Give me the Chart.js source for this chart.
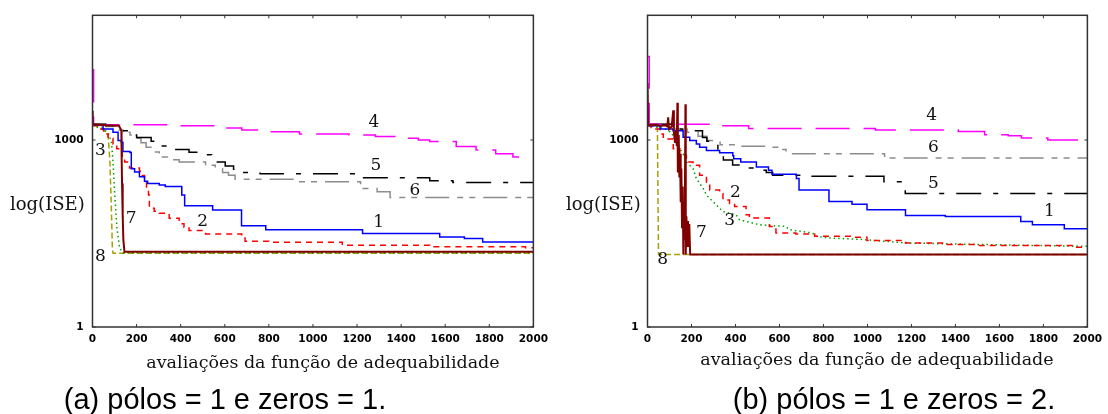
<!DOCTYPE html>
<html>
<head>
<meta charset="utf-8">
<script src="https://cdn.jsdelivr.net/npm/chart.js@4.4.0/dist/chart.umd.min.js"></script>
<style>
    body { margin: 0; background: #fff; width: 1108px; height: 414px; position: relative; overflow: hidden; }
    canvas { position: absolute; top: 0; }
    .txt { position: absolute; white-space: nowrap; color: #111; }
    .serif { font-family: "DejaVu Serif", serif; }
    .cap { font-family: "Liberation Sans", Arial, sans-serif; font-size: 29px; color: #000; transform: translate(-50%, -50%); }
</style>
</head>
<body>
<canvas id="chartA" width="554" height="414" style="left:0"></canvas>
<canvas id="chartB" width="554" height="414" style="left:554px"></canvas>

<div class="txt serif" style="left:10px;top:203px;font-size:18px;transform:translateY(-50%)">log(ISE)</div>
<div class="txt serif" style="left:566px;top:203px;font-size:18px;transform:translateY(-50%)">log(ISE)</div>
<div class="txt serif" style="left:323px;top:362px;font-size:17.5px;transform:translate(-50%,-50%)">avaliações da função de adequabilidade</div>
<div class="txt serif" style="left:877px;top:359px;font-size:17.5px;transform:translate(-50%,-50%)">avaliações da função de adequabilidade</div>
<div class="txt cap" style="left:225px;top:399px">(a) pólos = 1 e zeros = 1.</div>
<div class="txt cap" style="left:894px;top:399px">(b) pólos = 1 e zeros = 2.</div>

<script>
// x axis / y axis ticks
const xTickValues = [0, 200, 400, 600, 800, 1000, 1200, 1400, 1600, 1800, 2000];
const yTickValues = [1, 1000];

// (a) polos = 1, zeros = 1  -- [avaliacoes, ISE]
const a1 = [[0,1755],[48,1496],[93,1325],[116,978],[131,919],[138,653],[170,630],[176,347],[191,307],[213,256],[236,218],[250,200],[303,190],[330,180],[405,131],[418,88],[545,75],[676,42],[786,36.4],[1225,31.5],[1575,27.8],[1687,26.2],[1770,23],[2000,23]];
const a2 = [[0,1693],[26,1496],[50,1250],[71,1064],[93,864],[110,720],[123,638],[135,530],[146,443],[168,356],[213,315],[225,270],[236,227],[245,170],[254,131],[258,80],[280,72],[303,67],[348,55.7],[393,45.4],[415,40],[438,35.2],[513,31],[677,26.8],[692,23.8],[800,22.9],[1133,20.5],[1530,19.3],[1964,18.6],[2000,18.6]];
const a3 = [[0,1720],[40,1500],[71,1325],[86,919],[93,443],[101,131],[111,38.6],[123,18.6],[138,15.5],[2000,15.5]];
const a4 = [[0,13400],[5,1755],[390,1693],[555,1550],[677,1442],[797,1360],[939,1245],[1164,1202],[1283,1133],[1403,1064],[1478,1000],[1530,942],[1650,786],[1740,693],[1829,600],[1907,531],[2000,531]];
const a5 = [[0,1795],[60,1700],[120,1550],[138,1410],[168,1202],[200,1100],[266,953],[300,800],[348,703],[438,638],[513,578],[540,500],[550,443],[602,382],[640,340],[677,300],[760,288],[1216,247],[1530,221],[1635,208],[2000,208]];
const a6 = [[0,1780],[60,1650],[120,1450],[138,1325],[170,1200],[198,1064],[220,900],[243,766],[270,640],[303,531],[340,480],[393,443],[513,392],[557,347],[590,300],[617,272],[647,235],[917,213],[1216,167],[1291,148],[1350,119],[2000,119]];
const a7 = [[0,2930],[1,1790],[60,1720],[120,1690],[131,1420],[132,600],[134,200],[137,60],[140,25],[145,16.1],[2000,16.1]];
const a8 = [[0,1760],[40,1600],[60,1350],[71,1173],[79,443],[86,71],[90,18.6],[93,15.2],[2000,15.2]];

// (b) polos = 1, zeros = 2
const b1 = [[0,1693],[57,1496],[116,1410],[162,1104],[192,978],[222,864],[237,766],[268,679],[328,622],[388,560],[392,500],[424,443],[495,368],[550,326],[566,282],[677,240],[689,157],[825,103],[930,93],[998,75.7],[1173,61.5],[1354,59.3],[1697,49.4],[1750,43.7],[1895,37.8],[2000,37.8]];
const b2 = [[0,1693],[16,1496],[57,1250],[72,1038],[117,720],[147,565],[177,443],[207,392],[237,272],[268,200],[283,157],[328,139],[343,109],[373,96],[396,85.5],[448,63],[463,56],[554,41],[584,32.2],[675,31],[760,28.5],[930,27.5],[998,24.4],[1173,22.3],[1350,21],[1500,20.3],[1935,19],[2000,19]];
const b3 = [[0,1750],[40,1650],[80,1500],[110,1300],[147,720],[162,600],[177,443],[207,347],[222,240],[253,167],[268,131],[328,80],[343,71],[403,63],[418,52.5],[508,43.7],[629,41],[644,36.4],[750,32.2],[765,28.5],[825,26.8],[975,25.4],[1173,22.3],[1354,21.6],[1697,20.5],[1935,19.8],[2000,19.8]];
const b4 = [[0,21900],[8,1795],[300,1690],[460,1535],[1036,1442],[1413,1374],[1533,1216],[1640,1173],[1700,1076],[1820,1000],[1985,942],[2000,942]];
const b5 = [[0,1795],[120,1500],[160,1400],[250,1100],[270,950],[292,813],[320,653],[345,478],[387,398],[430,356],[494,327],[540,300],[569,272],[700,262],[1075,213],[1172,139],[2000,139]];
const b6 = [[0,1795],[110,1500],[180,1330],[230,1150],[270,980],[330,840],[420,790],[550,766],[600,703],[630,600],[1078,513],[2000,513]];
const b7 = [[0,8200],[3,1750],[20,1720],[40,1760],[60,1680],[80,1720],[90,1650],[94,2300],[98,1500],[110,1650],[117,3000],[120,1350],[125,900],[130,1400],[133,800],[136,3960],[138,300],[142,1200],[145,250],[148,600],[151,100],[154,350],[157,40],[160,180],[163,14.6],[166,90],[169,25],[172.5,3730],[174,14.6],[177,60],[180,20],[184,50],[187,25],[190,45],[194,14.6],[2000,14.6]];
const b8 = [[0,1795],[45,1585],[50,14.6],[2000,14.6]];

// curve numbers: [text, avaliacoes, ISE]
const labelsA = [['1',1298,48],['2',500,48.5],['3',36,687],['4',1277,1910],['5',1286,386],['6',1462,157],['7',175,55.7],['8',36,13.7]];
const labelsB = [['1',1827,71],['2',400,143],['3',373,50.7],['4',1292,2440],['5',1300,200],['6',1300,766],['7',245,32.2],['8',69,12.2]];

const lineColors = ['#0000ff', '#ff0000', '#00a000', '#ff00ff', '#000000', '#8c8c8c', '#800000', '#a8a000'];
const lineDashes = [[], [6, 5], [1.5, 3], [34, 14], [25, 12, 5, 12], [24, 8, 6, 6, 6, 8], [], [6, 3]];
const lineWidths = [1.5, 1.5, 1.5, 1.5, 1.5, 1.5, 2, 1.5];
const stepModes = ['before', 'before', false, 'before', 'before', 'before', false, false];

const tickFont = { family: 'DejaVu Sans', size: 10.5, weight: 'bold' };

// frame, inward tick marks and curve numbers
const framePlugin = {
    id: 'frame',
    afterDatasetsDraw(chart, args, opts) {
        const { ctx, chartArea: a, scales: { x, y } } = chart;
        ctx.save();
        ctx.strokeStyle = '#333';
        ctx.lineWidth = 1.5;
        ctx.strokeRect(a.left, a.top, a.right - a.left, a.bottom - a.top);
        ctx.lineWidth = 1;
        ctx.beginPath();
        x.ticks.forEach(t => {
            const px = x.getPixelForValue(t.value);
            ctx.moveTo(px, a.bottom); ctx.lineTo(px, a.bottom - 3);
            ctx.moveTo(px, a.top); ctx.lineTo(px, a.top + 3);
        });
        y.ticks.forEach(t => {
            const py = y.getPixelForValue(t.value);
            ctx.moveTo(a.left, py); ctx.lineTo(a.left + 3, py);
            ctx.moveTo(a.right, py); ctx.lineTo(a.right - 3, py);
        });
        ctx.stroke();

        ctx.font = '17px "DejaVu Serif"';
        ctx.fillStyle = '#111';
        ctx.textAlign = 'center';
        ctx.textBaseline = 'middle';
        opts.labels.forEach(l => {
            ctx.fillText(l[0], x.getPixelForValue(l[1]), y.getPixelForValue(l[2]));
        });
        ctx.restore();
    }
};

let makeChart = (canvasId, series, labels, yAxisWidth, rightPad) => {
    const datasets = series.map((pts, i) => ({
        data: pts.map(p => ({ x: p[0], y: p[1] })),
        borderColor: lineColors[i],
        borderDash: lineDashes[i],
        borderWidth: lineWidths[i],
        stepped: stepModes[i],
        pointRadius: 0,
        fill: false,
        tension: 0,
        order: i === 6 ? 0 : 1
    }));

    new Chart(document.getElementById(canvasId), {
        type: 'line',
        data: { datasets: datasets },
        options: {
            responsive: false,
            animation: false,
            devicePixelRatio: 1,
            layout: { padding: { left: 0, top: 12, right: rightPad, bottom: 0 } },
            plugins: {
                legend: { display: false },
                tooltip: { enabled: false },
                frame: { labels: labels }
            },
            scales: {
                x: {
                    type: 'linear',
                    min: 0,
                    max: 2000,
                    afterBuildTicks: s => { s.ticks = xTickValues.map(v => ({ value: v })); },
                    afterFit: s => { s.height = 87; },
                    ticks: { callback: v => String(v), font: tickFont, color: '#000', padding: 6, autoSkip: false, maxRotation: 0 },
                    grid: { display: false, drawTicks: false },
                    border: { display: false }
                },
                y: {
                    type: 'logarithmic',
                    min: 1,
                    max: 100000,
                    afterBuildTicks: s => { s.ticks = yTickValues.map(v => ({ value: v })); },
                    afterFit: s => { s.width = yAxisWidth; },
                    ticks: { callback: v => String(v), font: tickFont, color: '#000', padding: 9 },
                    grid: { display: false, drawTicks: false },
                    border: { display: false }
                }
            }
        },
        plugins: [framePlugin]
    });
};

makeChart('chartA', [a1, a2, a3, a4, a5, a6, a7, a8], labelsA, 92.5, 16);
makeChart('chartB', [b1, b2, b3, b4, b5, b6, b7, b8], labelsB, 93.5, 18);
</script>
</body>
</html>
